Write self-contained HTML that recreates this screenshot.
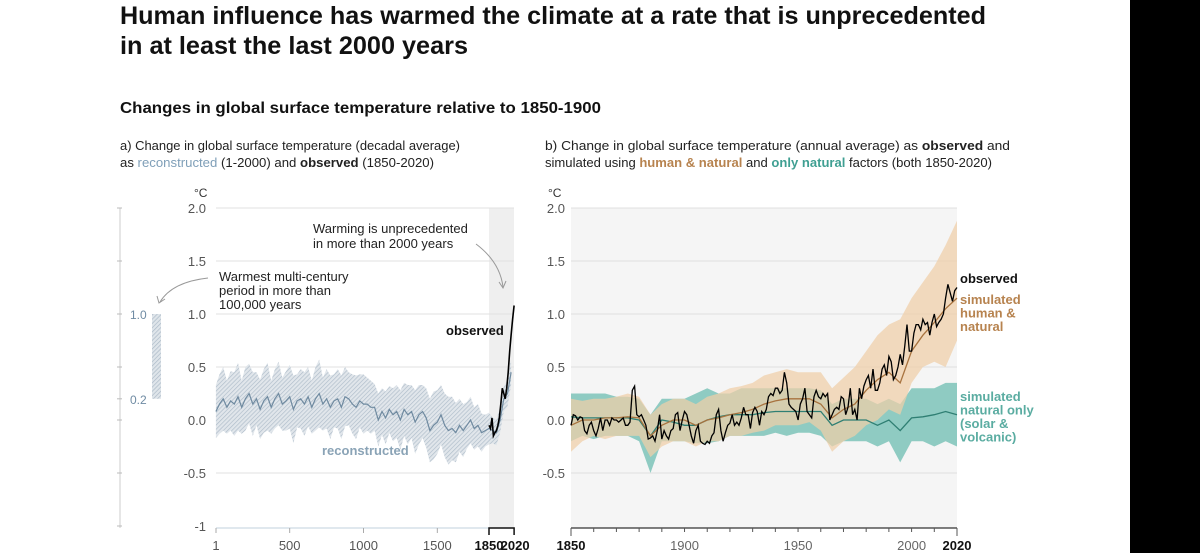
<!DOCTYPE html>
<html><head><meta charset="utf-8"><style>
html,body{margin:0;padding:0;background:#fff;}
svg{display:block;font-family:"Liberation Sans",sans-serif;}
</style></head><body>
<svg id="chart" width="1200" height="553" viewBox="0 0 1200 553" xmlns="http://www.w3.org/2000/svg">
<defs>
<pattern id="hatch" width="3" height="3" patternUnits="userSpaceOnUse" patternTransform="rotate(45)">
<rect width="3" height="3" fill="#dfe5ea"/><line x1="0" y1="0" x2="0" y2="3" stroke="#a9b8c6" stroke-width="1.3"/>
</pattern>
</defs>
<rect x="1130" y="0" width="70" height="553" fill="#000"/>
<text x="120" y="24" font-size="25" font-weight="bold" fill="#111" textLength="866" lengthAdjust="spacingAndGlyphs">Human influence has warmed the climate at a rate that is unprecedented</text>
<text x="120" y="54" font-size="25" font-weight="bold" fill="#111" textLength="348" lengthAdjust="spacingAndGlyphs">in at least the last 2000 years</text>
<text x="120" y="113" font-size="16" font-weight="bold" fill="#111" textLength="481" lengthAdjust="spacingAndGlyphs">Changes in global surface temperature relative to 1850-1900</text>
<text x="120" y="150" font-size="12.5" fill="#222" textLength="340" lengthAdjust="spacingAndGlyphs">a) Change in global surface temperature (decadal average)</text>
<text x="120" y="167" font-size="12.5" fill="#222" textLength="314" lengthAdjust="spacingAndGlyphs">as <tspan fill="#7f9fb8">reconstructed</tspan> (1-2000) and <tspan font-weight="bold">observed</tspan> (1850-2020)</text>
<text x="545" y="150" font-size="12.5" fill="#222" textLength="465" lengthAdjust="spacingAndGlyphs">b) Change in global surface temperature (annual average) as <tspan font-weight="bold">observed</tspan> and</text>
<text x="545" y="167" font-size="12.5" fill="#222" textLength="447" lengthAdjust="spacingAndGlyphs">simulated using <tspan fill="#b7834f" font-weight="bold">human &amp; natural</tspan> and <tspan fill="#3f9f92" font-weight="bold">only natural</tspan> factors (both 1850-2020)</text>
<g id="gA"></g>
<g id="gB"></g>
</svg>
<script>
// ---------- Panel a data ----------
const reconYears = [0,25,50,75,100,125,150,175,200,225,250,275,300,325,350,375,400,425,450,475,500,525,550,575,600,625,650,675,700,725,750,775,800,825,850,875,900,925,950,975,1000,1025,1050,1075,1100,1125,1150,1175,1200,1225,1250,1275,1300,1325,1350,1375,1400,1425,1450,1475,1500,1525,1550,1575,1600,1625,1650,1675,1700,1725,1750,1775,1800,1825,1850,1875,1900,1925,1950,1975,2000];
const reconMean = [0.08,0.15,0.2,0.12,0.18,0.15,0.22,0.12,0.2,0.25,0.15,0.2,0.1,0.18,0.22,0.12,0.2,0.25,0.15,0.18,0.22,0.1,0.18,0.2,0.15,0.22,0.12,0.2,0.25,0.15,0.2,0.12,0.18,0.2,0.12,0.22,0.2,0.15,0.12,0.18,0.15,0.15,0.12,0.12,0.0,0.08,0.02,0.1,0.05,0.08,0.0,0.1,0.05,0.08,-0.02,0.05,0.08,0.02,-0.1,-0.05,-0.02,0.05,-0.05,-0.1,-0.08,-0.12,-0.05,-0.1,-0.05,0.0,-0.08,-0.05,-0.12,-0.1,-0.08,-0.1,-0.12,0.0,0.2,0.25,0.45];
const reconHalf = [0.25,0.28,0.3,0.25,0.28,0.3,0.32,0.25,0.3,0.28,0.3,0.25,0.28,0.3,0.32,0.25,0.28,0.3,0.25,0.28,0.3,0.32,0.25,0.28,0.3,0.28,0.25,0.3,0.32,0.25,0.28,0.3,0.25,0.28,0.3,0.28,0.25,0.28,0.3,0.25,0.28,0.25,0.25,0.22,0.25,0.22,0.25,0.22,0.25,0.25,0.28,0.25,0.28,0.25,0.3,0.28,0.25,0.28,0.3,0.32,0.3,0.28,0.3,0.32,0.3,0.28,0.25,0.25,0.22,0.22,0.2,0.2,0.18,0.15,0.15,0.12,0.12,0.12,0.12,0.12,0.12];
const obsDecYears = [1850,1860,1870,1880,1890,1900,1910,1920,1930,1940,1950,1960,1970,1980,1990,2000,2010,2020];
const obsDecVals = [-0.05,-0.08,0.02,-0.15,-0.12,-0.1,-0.05,0.02,0.15,0.3,0.25,0.2,0.3,0.45,0.65,0.8,0.95,1.08];
const aYTicks = [2.0,1.5,1.0,0.5,0.0,-0.5,-1];
const aYTickLabels = ["2.0","1.5","1.0","0.5","0.0","-0.5","-1"];
const aXTicks = [1,500,1000,1500];
// ---------- Panel b data ----------
const obsYears0 = 1850;
const obsAnnual = [-0.05,0.05,0.04,0.0,0.03,0.02,-0.1,-0.13,-0.05,-0.02,-0.1,-0.15,-0.08,0.02,-0.1,0.0,0.0,-0.05,0.02,0.0,0.0,-0.02,0.0,0.02,-0.05,-0.05,-0.02,0.28,0.32,0.05,0.03,0.05,0.0,-0.05,-0.18,-0.17,-0.15,-0.2,-0.1,0.05,-0.18,-0.1,-0.15,-0.18,-0.1,-0.08,0.05,0.07,-0.1,0.0,0.08,0.05,-0.05,-0.15,-0.22,-0.1,-0.05,-0.2,-0.22,-0.23,-0.2,-0.22,-0.15,-0.12,0.05,0.1,-0.1,-0.2,-0.12,-0.05,-0.03,0.05,-0.05,-0.02,-0.05,0.02,0.12,0.05,0.05,-0.08,0.07,0.12,0.08,-0.05,0.08,0.05,0.1,0.22,0.25,0.23,0.3,0.3,0.25,0.28,0.45,0.35,0.15,0.12,0.1,0.08,0.0,0.15,0.2,0.3,0.08,0.05,0.02,0.22,0.28,0.22,0.2,0.25,0.22,0.25,0.0,0.05,0.1,0.12,0.1,0.22,0.2,0.05,0.12,0.3,0.05,0.1,0.0,0.3,0.2,0.32,0.38,0.42,0.3,0.48,0.28,0.28,0.35,0.48,0.52,0.42,0.6,0.55,0.38,0.42,0.5,0.62,0.52,0.7,0.9,0.65,0.65,0.82,0.9,0.9,0.85,0.95,0.9,0.92,0.8,0.92,1.0,0.88,0.92,0.95,1.0,1.15,1.28,1.2,1.12,1.22,1.25];
const simYears = [1850,1855,1860,1865,1870,1875,1880,1885,1890,1895,1900,1905,1910,1915,1920,1925,1930,1935,1940,1945,1950,1955,1960,1965,1970,1975,1980,1985,1990,1995,2000,2005,2010,2015,2020];
const hnMean = [-0.05,0.0,0.0,0.02,0.02,0.03,0.02,-0.15,-0.05,0.0,0.0,-0.05,0.0,0.02,0.05,0.07,0.1,0.15,0.18,0.2,0.2,0.2,0.15,0.02,0.1,0.15,0.28,0.38,0.45,0.35,0.65,0.8,0.92,1.05,1.15];
const hnHi = [0.2,0.18,0.2,0.2,0.22,0.25,0.22,0.05,0.15,0.2,0.2,0.15,0.22,0.25,0.3,0.32,0.35,0.42,0.45,0.48,0.45,0.45,0.45,0.3,0.4,0.5,0.65,0.8,0.9,0.95,1.15,1.3,1.45,1.65,1.88];
const hnLo = [-0.3,-0.2,-0.15,-0.18,-0.15,-0.15,-0.15,-0.35,-0.25,-0.2,-0.2,-0.25,-0.2,-0.2,-0.15,-0.15,-0.12,-0.1,-0.05,-0.05,-0.05,-0.02,-0.1,-0.3,-0.2,-0.15,-0.05,0.0,0.1,0.05,0.35,0.5,0.55,0.5,0.75];
const natMean = [0.03,0.02,0.02,0.02,0.02,0.02,0.0,-0.15,0.0,-0.02,-0.05,-0.05,0.0,0.03,0.05,0.05,0.05,0.07,0.08,0.08,0.08,0.08,0.08,-0.05,0.0,0.0,0.0,-0.05,0.0,-0.1,0.02,0.03,0.05,0.08,0.05];
const natHi = [0.25,0.25,0.25,0.25,0.22,0.22,0.2,0.05,0.2,0.2,0.2,0.25,0.3,0.25,0.25,0.3,0.3,0.3,0.3,0.3,0.3,0.3,0.28,0.15,0.2,0.2,0.2,0.15,0.2,0.15,0.3,0.3,0.3,0.35,0.35];
const natLo = [-0.2,-0.15,-0.18,-0.15,-0.15,-0.15,-0.2,-0.5,-0.2,-0.2,-0.2,-0.22,-0.22,-0.2,-0.15,-0.15,-0.15,-0.15,-0.12,-0.15,-0.12,-0.12,-0.15,-0.25,-0.2,-0.2,-0.2,-0.25,-0.2,-0.4,-0.2,-0.2,-0.25,-0.2,-0.25];
const bYTicks = [2.0,1.5,1.0,0.5,0.0,-0.5];
const bYTickLabels = ["2.0","1.5","1.0","0.5","0.0","-0.5"];
const bXTicks = [1850,1900,1950,2000,2020];

const NS = "http://www.w3.org/2000/svg";
function mk(parent, tag, attrs, txt){
  const e = document.createElementNS(NS, tag);
  for (const k in attrs) e.setAttribute(k, attrs[k]);
  if (txt !== undefined) e.textContent = txt;
  parent.appendChild(e);
  return e;
}
const yS = v => 420 - 106 * v;
const xA = yr => 216 + (yr - 1) * (273 / 1849);
const xB = yr => 571 + (yr - 1850) * (386 / 170);
const linePath = (xs, ys, fx) => xs.map((x,i)=>(i?"L":"M")+fx(x).toFixed(1)+","+yS(ys[i]).toFixed(1)).join("");
const bandPath = (xs, lo, hi, fx) => {
  let d = xs.map((x,i)=>(i?"L":"M")+fx(x).toFixed(1)+","+yS(hi[i]).toFixed(1)).join("");
  for (let i = xs.length-1; i >= 0; i--) d += "L"+fx(xs[i]).toFixed(1)+","+yS(lo[i]).toFixed(1);
  return d + "Z";
};

// ===== Panel A =====
const gA = document.getElementById("gA");
let e;
e = mk(gA,"rect",{x:489,y:208,width:25,height:320,fill:"#efefef"});


aYTicks.forEach((v,i)=>{
  if (v > -1) {
    e = mk(gA,"line",{x1:216,x2:514,y1:yS(v),y2:yS(v),stroke:"#e2e2e2","stroke-width":1});
    
    
  }
  e = mk(gA,"text",{x:206,y:yS(v)+5,"font-size":13,fill:"#555","text-anchor":"end"}, aYTickLabels[i]);
  
  
});
e = mk(gA,"text",{x:194,y:197,"font-size":12,fill:"#333"},"°C");


// left mini scale
e = mk(gA,"line",{x1:120,x2:120,y1:208,y2:528,stroke:"#ccc","stroke-width":1});


[2.0,1.5,1.0,0.5,0.2,0.0,-0.5,-1].forEach(v=>{
  e = mk(gA,"line",{x1:117,x2:122,y1:yS(v),y2:yS(v),stroke:"#bbb","stroke-width":1});
  
  
});
e = mk(gA,"text",{x:130,y:yS(1.0)+5,"font-size":12,fill:"#6f8ba3"},"1.0");


e = mk(gA,"text",{x:130,y:yS(0.2)+5,"font-size":12,fill:"#6f8ba3"},"0.2");


e = mk(gA,"rect",{x:152,y:yS(1.0),width:9,height:yS(0.2)-yS(1.0),fill:"url(#hatch)"});


// reconstructed band + line
const rLo = reconMean.map((m,i)=>m-reconHalf[i]);
const rHi = reconMean.map((m,i)=>m+reconHalf[i]);
e = mk(gA,"path",{d:bandPath(reconYears,rLo,rHi,xA),fill:"url(#hatch)",opacity:0.95});


e = mk(gA,"path",{d:linePath(reconYears,reconMean,xA),fill:"none",stroke:"#6f8aa0","stroke-width":1.2});


e = mk(gA,"path",{d:linePath(obsDecYears,obsDecVals,xA),fill:"none",stroke:"#000","stroke-width":1.6});


// x axis
e = mk(gA,"line",{x1:216,x2:489,y1:528,y2:528,stroke:"#d6e0e8","stroke-width":1.5});


aXTicks.forEach(t=>{
  e = mk(gA,"line",{x1:xA(t),x2:xA(t),y1:528,y2:533,stroke:"#aaa"});
  
  
  e = mk(gA,"text",{x:xA(t),y:550,"font-size":13,fill:"#555","text-anchor":"middle"},String(t));
  
  
});
e = mk(gA,"path",{d:`M${xA(1850)},535V528H${xA(2020)}V535`,fill:"none",stroke:"#111","stroke-width":1.5});


e = mk(gA,"text",{x:xA(1850),y:550,"font-size":13,"font-weight":"bold",fill:"#111","text-anchor":"middle"},"1850");


e = mk(gA,"text",{x:xA(2020)+1,y:550,"font-size":13,"font-weight":"bold",fill:"#111","text-anchor":"middle"},"2020");


// annotations
e = mk(gA,"text",{x:446,y:335,"font-size":13,"font-weight":"bold",fill:"#111"},"observed");


e = mk(gA,"text",{x:322,y:455,"font-size":13,"font-weight":"bold",fill:"#8aa3b6"},"reconstructed");


e = mk(gA,"text",{x:313,y:233,"font-size":13,fill:"#222"},"Warming is unprecedented");


e = mk(gA,"text",{x:313,y:248,"font-size":13,fill:"#222"},"in more than 2000 years");


e = mk(gA,"path",{d:"M476,244 Q500,262 503,287",fill:"none",stroke:"#999","stroke-width":1});


e = mk(gA,"path",{d:"M499,282 L503,288 L506,281",fill:"none",stroke:"#999","stroke-width":1});


["Warmest multi-century","period in more than","100,000 years"].forEach((t,i)=>{
  e = mk(gA,"text",{x:219,y:281+i*14,"font-size":13,fill:"#222"},t);
  
  
});
e = mk(gA,"path",{d:"M208,278 Q172,282 160,302",fill:"none",stroke:"#999","stroke-width":1});


e = mk(gA,"path",{d:"M157,296 L159,303 L165,299",fill:"none",stroke:"#999","stroke-width":1});



// ===== Panel B =====
const gB = document.getElementById("gB");
e = mk(gB,"rect",{x:571,y:208,width:386,height:320,fill:"#f5f5f5"});


bYTicks.forEach((v,i)=>{
  e = mk(gB,"line",{x1:571,x2:957,y1:yS(v),y2:yS(v),stroke:"#e0e0e0","stroke-width":1});
  
  
  e = mk(gB,"text",{x:565,y:yS(v)+5,"font-size":13,fill:"#555","text-anchor":"end"}, bYTickLabels[i]);
  
  
});
e = mk(gB,"text",{x:548,y:197,"font-size":12,fill:"#333"},"°C");


e = mk(gB,"path",{d:bandPath(simYears,natLo,natHi,xB),fill:"#8fcbc2"});


e = mk(gB,"path",{d:bandPath(simYears,hnLo,hnHi,xB),fill:"#f0cfa8",opacity:0.72});


e = mk(gB,"path",{d:linePath(simYears,natMean,xB),fill:"none",stroke:"#2f7f73","stroke-width":1.3});


e = mk(gB,"path",{d:linePath(simYears,hnMean,xB),fill:"none",stroke:"#a8733f","stroke-width":1.3});


const obsYrs = obsAnnual.map((_,i)=>obsYears0+i);
e = mk(gB,"path",{d:linePath(obsYrs,obsAnnual,xB),fill:"none",stroke:"#000","stroke-width":1.3});


e = mk(gB,"line",{x1:571,x2:957,y1:528,y2:528,stroke:"#333","stroke-width":1.2});


for (let yr = 1850; yr <= 2020; yr += 10) {
  const major = (yr === 1850 || yr === 2020);
  e = mk(gB,"line",{x1:xB(yr),x2:xB(yr),y1:528,y2:major?536:532,stroke:"#555"});
  
  
}
bXTicks.forEach(t=>{
  const bold = (t === 1850 || t === 2020);
  e = mk(gB,"text",{x:xB(t),y:550,"font-size":13,fill:bold?"#111":"#666","font-weight":bold?"bold":"normal","text-anchor":"middle"},String(t));
  
  
});
e = mk(gB,"text",{x:960,y:283,"font-size":13,"font-weight":"bold",fill:"#111"},"observed");


["simulated","human &","natural"].forEach((t,i)=>{
  e = mk(gB,"text",{x:960,y:304+i*13.5,"font-size":13,"font-weight":"bold",fill:"#b7834f"},t);
  
  
});
["simulated","natural only","(solar &","volcanic)"].forEach((t,i)=>{
  e = mk(gB,"text",{x:960,y:401+i*13.5,"font-size":13,"font-weight":"bold",fill:"#5aaca1"},t);
  
  
});
</script>
</body></html>
